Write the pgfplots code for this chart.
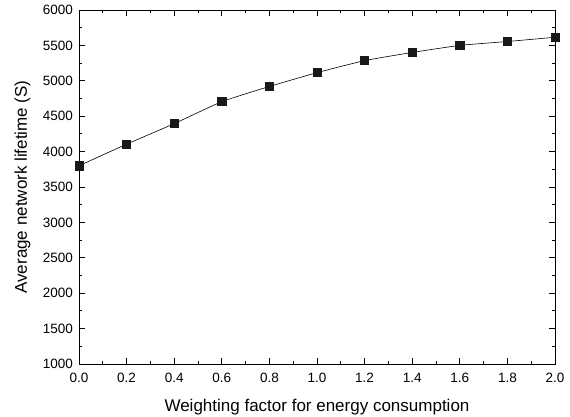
\documentclass[border=0pt]{standalone}
\usepackage{fontspec}
\setmainfont{Liberation Sans}
\usepackage{pgfplots}
\pgfplotsset{compat=1.18}

\begin{document}
\begin{tikzpicture}
\begin{axis}[
    width=476pt, height=354pt,
    scale only axis,
    xmin=0, xmax=2, ymin=1000, ymax=6000,
    xtick={0,0.2,...,2.0},
    ytick={1000,1500,...,6000},
    minor x tick num=1,
    minor y tick num=1,
    tick align=inside,
    major tick length=6pt,
    minor tick length=3pt,
    tick style={black, line width=0.8pt},
    axis line style={line width=0.8pt},
    xticklabel style={yshift=-6pt, /pgf/number format/.cd, fixed, fixed zerofill, precision=1},
    yticklabel style={xshift=-2.5pt, /pgf/number format/.cd, fixed, 1000 sep={}},
    scaled ticks=false,
    /pgf/number format/assume math mode=true,
    ticklabel style={font=\fontsize{13.5}{15}\selectfont},
    label style={font=\fontsize{17}{19}\selectfont},
    xlabel={Weighting factor for energy consumption},
    ylabel={Average network lifetime (S)},
    xlabel style={at={(axis description cs:0.5,0)}, anchor=north, yshift=-32pt},
    ylabel style={at={(axis description cs:-0.0945,0.5)}, anchor=south},
    clip=false,
]
\addplot[black, line width=0.6pt, smooth, tension=0.3, mark=square*,
    mark size=4.1pt, mark options={fill=black!90, draw=black!90}]
coordinates {
    (0.0, 3800) (0.2, 4105) (0.4, 4395) (0.6, 4705) (0.8, 4920)
    (1.0, 5115) (1.2, 5285) (1.4, 5400) (1.6, 5500) (1.8, 5555)
    (2.0, 5615)
};
\end{axis}
\pgfresetboundingbox
\path ([xshift=-79pt,yshift=-53pt]current axis.south west)
    rectangle ([xshift=15pt,yshift=10pt]current axis.north east);
\end{tikzpicture}
\end{document}
